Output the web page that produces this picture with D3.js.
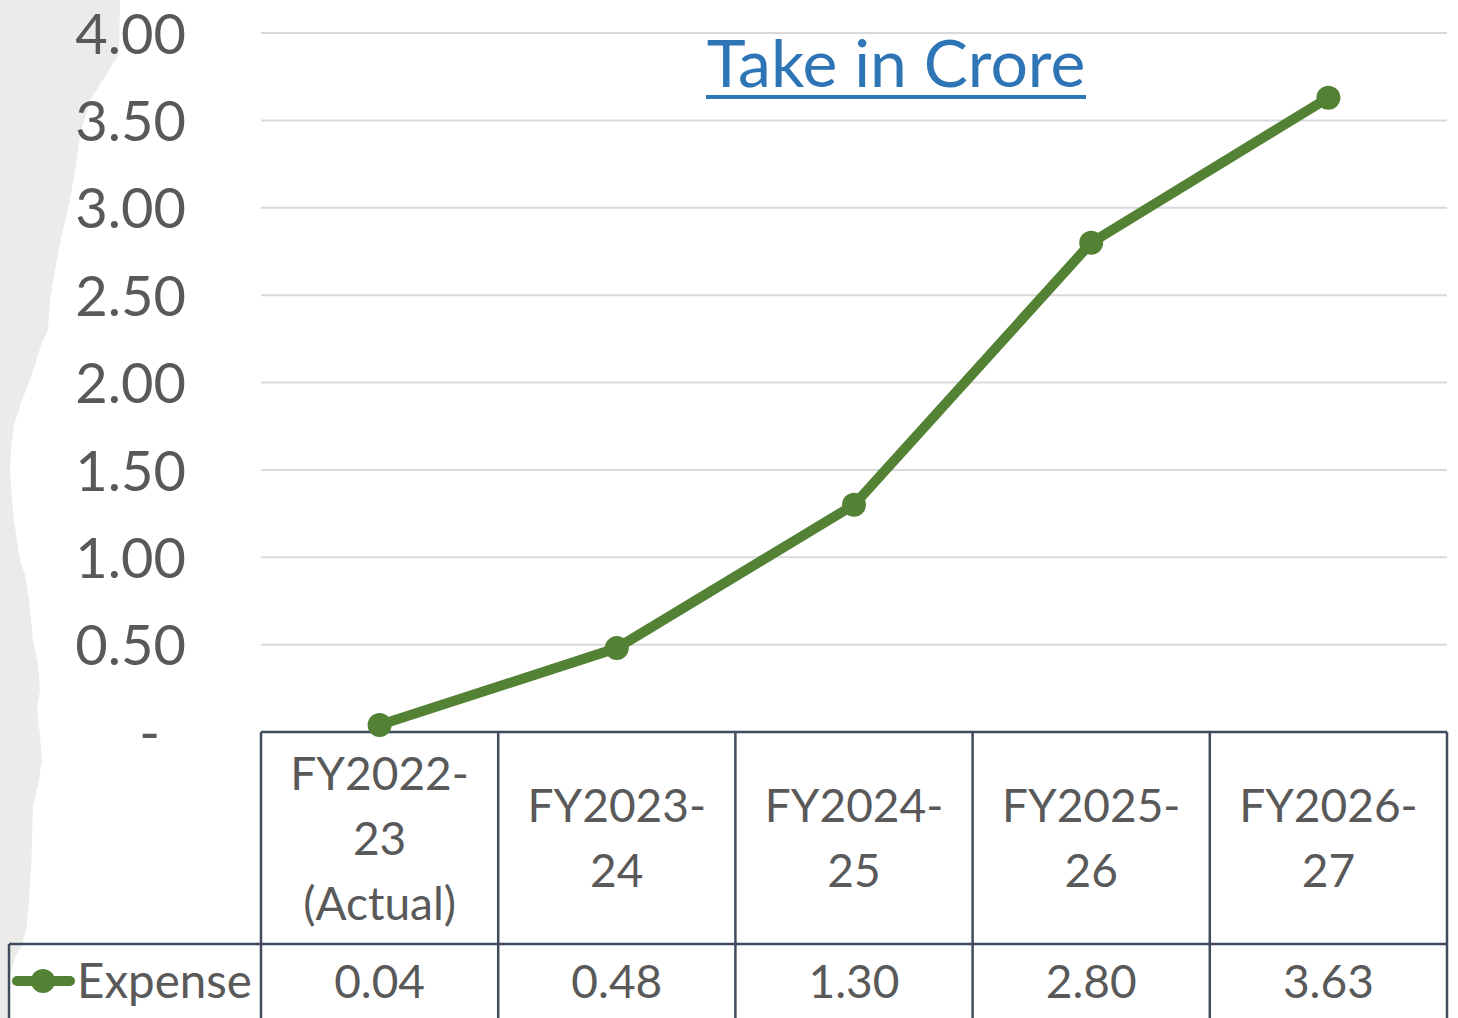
<!DOCTYPE html>
<html><head><meta charset="utf-8">
<script src="https://cdn.jsdelivr.net/npm/d3@7"></script>
<style>
html,body{margin:0;padding:0;background:#fff;}
svg{display:block;}
text{font-family:Lato,"Open Sans",sans-serif;fill:#595959;}
</style></head>
<body>
<svg id="chart" width="1458" height="1018"></svg>
<script>
const categories = [["FY2022-","23","(Actual)"],["FY2023-","24"],["FY2024-","25"],["FY2025-","26"],["FY2026-","27"]];
const categoryKeys = ["FY2022-23 (Actual)","FY2023-24","FY2024-25","FY2025-26","FY2026-27"];
const seriesName = "Expense";
const expense = [0.04, 0.48, 1.30, 2.80, 3.63];
const yTicks = [0, 0.5, 1, 1.5, 2, 2.5, 3, 3.5, 4];
const title = "Take in Crore";

(function () {
const svg = d3.select("#chart");
const W = 1458, H = 1018;
const pLeft = 261, pRight = 1447, pTop = 33, pBottom = 732, rowY = 944;
const green = "#548235", grid = "#D9D9D9", tableLine = "#3E4C5E";

// torn paper edge
const edge = [[0,0],[120,0],[119,55],[114,62],[103,80],[90,100],[80,135],[76,165],[70,200],[61,238],[55,270],[50,300],[48,330],[41,345],[35,365],[28,385],[22,400],[14,425],[11,450],[10,470],[12,500],[14,520],[17,540],[20,560],[25,575],[29,600],[33,640],[38,665],[40,690],[37,710],[40,735],[42,760],[38,785],[33,805],[32,840],[31,870],[29,900],[27,925],[22,945],[15,958],[10,975],[9,1018],[0,1018]];
svg.append("path").attr("d", d3.line()(edge) + "Z").attr("fill", "#EBEBE9");

const x = d3.scaleBand().domain(categoryKeys).range([pLeft, pRight]).padding(0);
const y = d3.scaleLinear().domain([0, 4]).range([pBottom, pTop]);
const cx = k => x(k) + x.bandwidth() / 2;

// gridlines
svg.append("g").selectAll("line").data(yTicks.filter(d => d > 0)).join("line")
  .attr("x1", pLeft).attr("x2", pRight)
  .attr("y1", d => y(d)).attr("y2", d => y(d))
  .attr("stroke", grid).attr("stroke-width", 2);

// y axis labels
const yAxis = svg.append("g").attr("transform", `translate(186,0)`)
  .call(d3.axisLeft(y).tickValues(yTicks).tickSize(0).tickPadding(0)
    .tickFormat(d => d === 0 ? "-" : d3.format(".2f")(d)));
yAxis.select(".domain").remove();
yAxis.selectAll("text").attr("font-size", 56).attr("fill", "#595959")
  .attr("font-family", "Lato, 'Open Sans', sans-serif")
  .attr("dy", "0.36em")
  .attr("dx", d => d === 0 ? -26 : 0);

// title
svg.append("text").attr("x", 896).attr("y", 87).attr("text-anchor", "middle")
  .attr("font-size", 66).style("fill", "#2E75B6").text(title);
svg.append("line").attr("x1", 706).attr("x2", 1086).attr("y1", 97).attr("y2", 97)
  .attr("stroke", "#2E75B6").attr("stroke-width", 4);

// table
const tg = svg.append("g").attr("stroke", tableLine).attr("stroke-width", 2.5);
tg.append("line").attr("x1", pLeft).attr("x2", pRight).attr("y1", pBottom).attr("y2", pBottom);
tg.append("line").attr("x1", 9).attr("x2", pRight).attr("y1", rowY).attr("y2", rowY);
tg.append("line").attr("x1", 9).attr("x2", 9).attr("y1", rowY).attr("y2", H);
const bounds = categoryKeys.map(k => x(k)).concat([pRight]);
tg.selectAll(".v").data(bounds).join("line").attr("class", "v")
  .attr("x1", d => d).attr("x2", d => d).attr("y1", pBottom).attr("y2", H);

// category labels
const lh = 65;
categoryKeys.forEach((k, i) => {
  const lines = categories[i];
  const midY = (pBottom + rowY) / 2;
  const firstC = midY - (lines.length - 1) * lh / 2;
  const txt = svg.append("text").attr("text-anchor", "middle").attr("font-size", 46);
  lines.forEach((ln, j) => {
    txt.append("tspan").attr("x", cx(k)).attr("y", firstC + j * lh).attr("dy", "0.36em").text(ln);
  });
});

// values row
svg.append("g").selectAll("text").data(expense).join("text")
  .attr("x", (d, i) => cx(categoryKeys[i])).attr("y", 981).attr("dy", "0.36em")
  .attr("text-anchor", "middle").attr("font-size", 46)
  .text(d => d3.format(".2f")(d));

// legend key
svg.append("line").attr("x1", 17).attr("x2", 70).attr("y1", 981).attr("y2", 981)
  .attr("stroke", green).attr("stroke-width", 10).attr("stroke-linecap", "round");
svg.append("circle").attr("cx", 43).attr("cy", 981).attr("r", 12).attr("fill", green);
svg.append("text").attr("x", 77).attr("y", 981).attr("dy", "0.36em").attr("font-size", 47.5).text(seriesName);

// line
svg.append("path").datum(expense)
  .attr("d", d3.line().x((d, i) => cx(categoryKeys[i])).y(d => y(d)))
  .attr("fill", "none").attr("stroke", green).attr("stroke-width", 10).attr("stroke-linejoin", "round");
svg.append("g").selectAll("circle").data(expense).join("circle")
  .attr("cx", (d, i) => cx(categoryKeys[i])).attr("cy", d => y(d)).attr("r", 12).attr("fill", green);
})();
</script>
</body></html>
